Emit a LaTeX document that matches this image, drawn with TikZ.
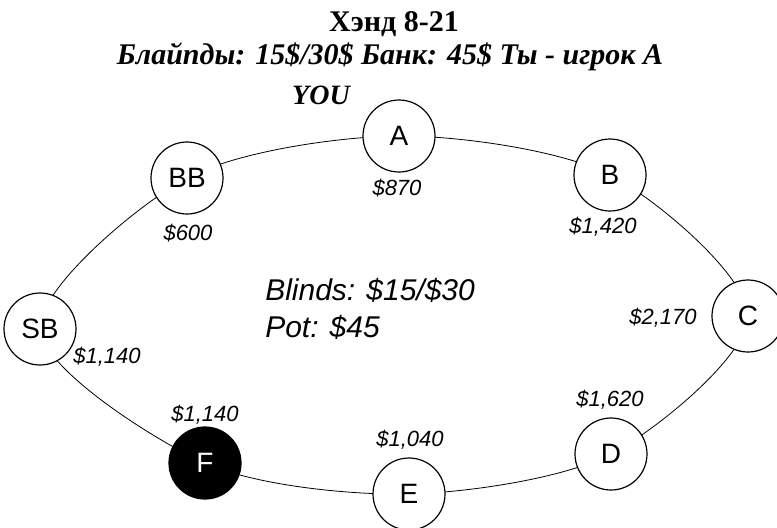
\documentclass[tikz,border=0pt]{standalone}
\usepackage{fontspec}
\setmainfont{Liberation Serif}
\setsansfont{Liberation Sans}
\usepackage{tikz}
\usetikzlibrary{backgrounds}

\begin{document}
\begin{tikzpicture}[x=0.5pt, y=-0.5pt, line width=0.6pt,
    seat/.style={circle, draw=black, fill=white, minimum size=36pt, inner sep=0pt,
      font=\sffamily\fontsize{14}{14}\selectfont},
    cash/.style={font=\sffamily\itshape\fontsize{11}{11}\selectfont},
    head/.style={font=\bfseries\fontsize{15}{15}\selectfont}]
  \useasboundingbox (0,0) rectangle (777,527);

  \node[head] (title) at (394,24) {Хэнд 8-21};
  \node[head, font=\bfseries\itshape\fontsize{15}{15}\selectfont] (sub) at (390,57)
    {Блайпды: 15\$/30\$ Банк: 45\$ Ты - игрок А};
  \node[font=\bfseries\itshape\fontsize{14}{14}\selectfont] (you) at (321,95) {YOU};

  \def\drawSeat#1#2#3#4#5{
    \node[seat, #4] (#1) at (#2) {#1};
    \node[cash] (#1cash) at (#3) {\$#5};
  }

  \drawSeat{A}{399,136}{397,188}{}{870}
  \drawSeat{B}{610,175}{603,227}{}{1,420}
  \drawSeat{C}{748,316}{663,318}{}{2,170}
  \drawSeat{D}{611,454}{610,400}{}{1,620}
  \drawSeat{E}{409,494}{410,440}{}{1,040}
  \drawSeat{F}{205,463}{205,415}{fill=black, text=white}{1,140}
  \drawSeat{SB}{40,329}{107,357}{}{1,140}
  \drawSeat{BB}{187,178}{188,233}{}{600}

  \node[anchor=west, font=\sffamily\itshape\fontsize{15}{15}\selectfont] (blinds) at (258,290) {Blinds: \$15/\$30};
  \node[anchor=west, font=\sffamily\itshape\fontsize{15}{15}\selectfont] (pot) at (258,327) {Pot: \$45};

  \begin{scope}[on background layer]
    \draw plot[smooth cycle] coordinates {(A) (B) (C) (D) (E) (F) (SB) (BB)};
  \end{scope}
\end{tikzpicture}
\end{document}
